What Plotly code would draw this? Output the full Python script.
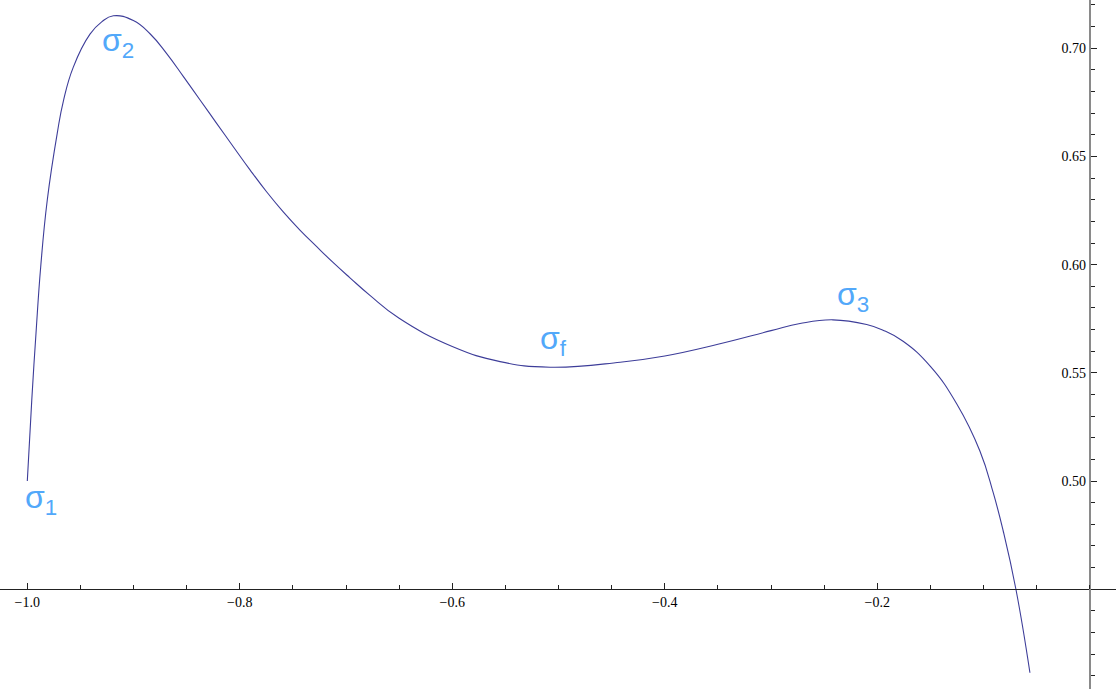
import plotly.graph_objects as go

# Curve samples
x_vals = [-1.000, -0.9958, -0.9918, -0.9874, -0.9812, -0.9718, -0.9661, -0.9567,
          -0.941, -0.930, -0.919, -0.9002, -0.8845, -0.8688, -0.8532, -0.8374,
          -0.8218, -0.8061, -0.7904, -0.7748, -0.7591, -0.7434, -0.7276, -0.712,
          -0.6963, -0.6775, -0.65, -0.6, -0.555, -0.508, -0.442, -0.4, -0.35,
          -0.3, -0.2727, -0.2417, -0.21, -0.1946, -0.1757, -0.15, -0.125,
          -0.1034, -0.0908, -0.0814, -0.0695, -0.0563]
y_vals = [0.500, 0.5374, 0.5684, 0.5989, 0.6299, 0.6608, 0.6755, 0.6913,
          0.7065, 0.7122, 0.7150, 0.7128, 0.7067, 0.6975, 0.6870, 0.6761,
          0.6653, 0.6545, 0.6438, 0.6337, 0.6244, 0.6160, 0.6083, 0.6009,
          0.5939, 0.5858, 0.5752, 0.5622, 0.5552, 0.5526, 0.5549, 0.5578, 0.5632,
          0.5695, 0.5728, 0.5745, 0.5723, 0.5697, 0.5646, 0.5530, 0.5355,
          0.5139, 0.4945, 0.4768, 0.4500, 0.4114]

# Point labels
label_text = ["σ<sub>1</sub>", "σ<sub>2</sub>", "σ<sub>f</sub>", "σ<sub>3</sub>"]
label_x = [-1.0045, -0.9315, -0.519, -0.2395]
label_y = [0.4915, 0.7025, 0.5648, 0.5852]

# Axis ticks
x_ticks = [-1.0, -0.8, -0.6, -0.4, -0.2]
y_ticks = [0.45, 0.50, 0.55, 0.60, 0.65, 0.70]
y_tick_text = ["", "0.50", "0.55", "0.60", "0.65", "0.70"]

x_range = [-1.0257, 0.0247]
y_range = [0.4039, 0.7223]
x_cross = 0.0     # where the vertical axis sits
y_cross = 0.45    # where the horizontal axis sits

fig = go.Figure()
fig.add_trace(go.Scatter(
    x=x_vals, y=y_vals, mode="lines",
    line=dict(color="#3d3d99", width=1.1, shape="spline", smoothing=1.3),
    hoverinfo="skip", showlegend=False,
))

for t, lx, ly in zip(label_text, label_x, label_y):
    fig.add_annotation(
        x=lx, y=ly, text=t, showarrow=False, xanchor="left", yanchor="middle",
        font=dict(family="Liberation Sans", size=32, color="#52a8fa"),
    )

x_pos = (y_cross - y_range[0]) / (y_range[1] - y_range[0])
y_pos = (x_cross - x_range[0]) / (x_range[1] - x_range[0])

fig.update_layout(
    width=1116, height=689,
    margin=dict(l=0, r=0, t=0, b=0),
    paper_bgcolor="white", plot_bgcolor="white",
    xaxis=dict(
        range=x_range, anchor="free", position=x_pos,
        showgrid=False, zeroline=False,
        showline=True, linecolor="#222222", linewidth=1,
        tickvals=x_ticks, tickformat=".1f",
        ticks="inside", ticklen=6, tickwidth=1, tickcolor="#222222",
        minor=dict(ticks="inside", ticklen=4, tickwidth=1, tickcolor="#222222",
                   dtick=0.05, tick0=0),
        tickfont=dict(family="Liberation Serif", size=14, color="black"),
    ),
    yaxis=dict(
        range=y_range, anchor="free", position=y_pos, side="left",
        showgrid=False, zeroline=False,
        showline=True, linecolor="#8a8a8a", linewidth=2,
        tickvals=y_ticks, ticktext=y_tick_text,
        ticks="inside", ticklen=6, tickwidth=1, tickcolor="#222222",
        minor=dict(ticks="inside", ticklen=4, tickwidth=1, tickcolor="#222222",
                   dtick=0.01, tick0=0),
        tickfont=dict(family="Liberation Serif", size=14, color="black"),
    ),
)

fig.write_html("out.html")
